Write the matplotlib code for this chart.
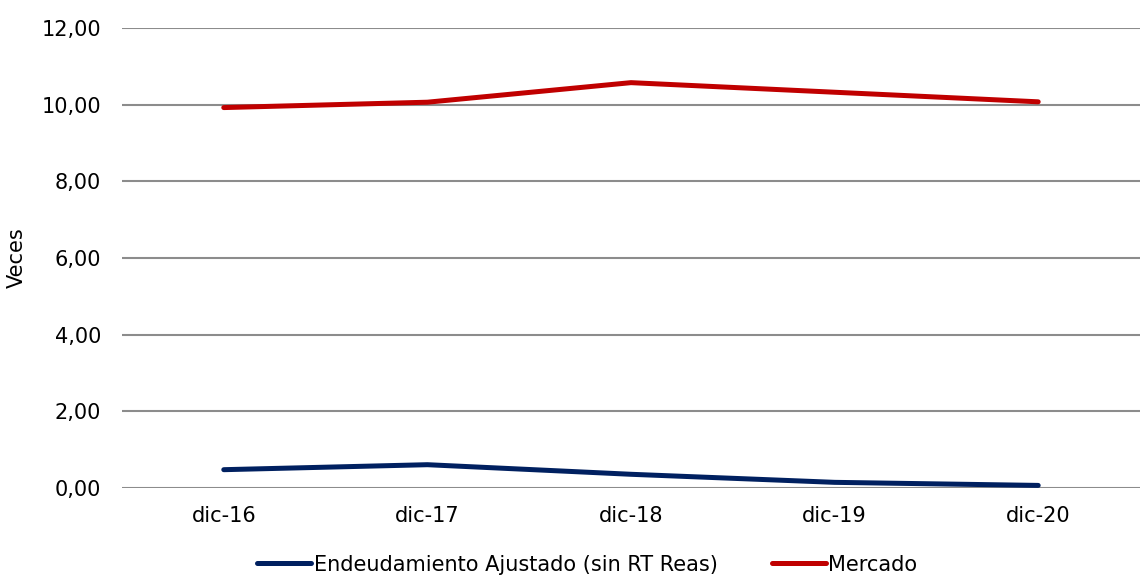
import matplotlib.pyplot as plt
from matplotlib.ticker import FuncFormatter

periodos = ['dic-16', 'dic-17', 'dic-18', 'dic-19', 'dic-20']
endeudamiento = [0.48, 0.61, 0.36, 0.15, 0.07]
mercado = [9.92, 10.06, 10.57, 10.32, 10.07]

fig = plt.figure(figsize=(11.4, 5.79), dpi=100)
ax = fig.add_axes([0.107, 0.157, 0.893, 0.795])

x = range(len(periodos))
ax.plot(x, endeudamiento, color='#002060', lw=3.6, solid_capstyle='round',
        solid_joinstyle='round', label='Endeudamiento Ajustado (sin RT Reas)', zorder=3)
ax.plot(x, mercado, color='#C00000', lw=3.6, solid_capstyle='round',
        solid_joinstyle='round', label='Mercado', zorder=3)

ax.set_xlim(-0.5, len(periodos) - 0.5)
ax.set_ylim(0, 12)
ax.set_yticks(range(0, 13, 2))
ax.yaxis.set_major_formatter(FuncFormatter(lambda v, p: f'{v:.2f}'.replace('.', ',')))
ax.set_xticks(list(x))
ax.set_xticklabels(periodos)
ax.tick_params(axis='both', length=0, labelsize=15, colors='#000000')
ax.tick_params(axis='y', pad=15)
ax.tick_params(axis='x', pad=13)
ax.yaxis.grid(True, color='#8c8c8c', lw=1.5)
ax.set_axisbelow(True)
for s in ax.spines.values():
    s.set_visible(False)

ax.set_ylabel('Veces', fontsize=15)
ax.yaxis.set_label_coords(-0.093, 0.5)

fig.legend(loc='lower center', bbox_to_anchor=(0.515, -0.025), ncol=2, frameon=False,
           fontsize=15, handlelength=2.6, handletextpad=0.1, columnspacing=2.6)

fig.savefig('out.png', dpi=100)
